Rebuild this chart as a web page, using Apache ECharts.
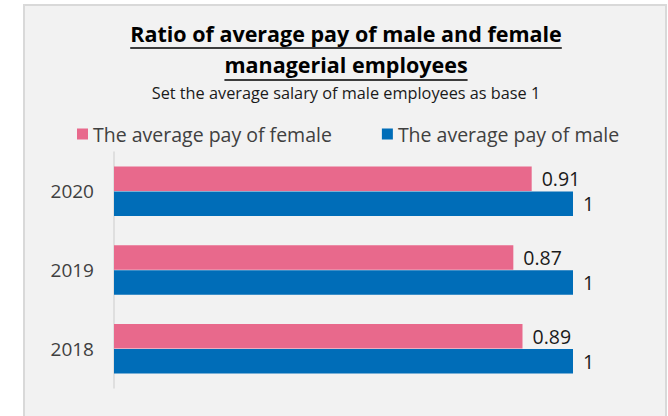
<!DOCTYPE html>
<html>
<head>
<meta charset="utf-8">
<script src="https://cdn.jsdelivr.net/npm/echarts@6/dist/echarts.min.js"></script>
<style>
  html, body { margin: 0; padding: 0; background: #ffffff; }
  #panel {
    position: absolute; left: 23px; top: 4px; width: 640px; height: 420px;
    background: #f2f2f2; border: 2px solid #d9d9d9; border-bottom: none;
  }
  #chart { position: absolute; left: 0; top: 0; width: 668px; height: 416px; }
</style>
</head>
<body>
<div id="panel"></div>
<div id="chart"></div>
<script>
const years = ["2020", "2019", "2018"];
const femalePay = [0.91, 0.87, 0.89];
const malePay = [1, 1, 1];
const seriesNames = ["The average pay of female", "The average pay of male"];
const titleLines = ["Ratio of average pay of male and female", "managerial employees"];
const subtitle = "Set the average salary of male employees as base 1";

const FONT = "Open Sans";
const CENTER_X = 341;

const chart = echarts.init(document.getElementById("chart"), null, { renderer: "svg" });

const titleStyle = { fontFamily: FONT, fontSize: 21.5, fontWeight: "bold", color: "#000000" };
const labelStyle = { show: true, position: "right", distance: 10, fontFamily: FONT, fontSize: 19.5, color: "#1a1a1a" };

const option = {
    backgroundColor: "transparent",
    textStyle: { fontFamily: FONT },
    title: [
        { text: titleLines[0], left: CENTER_X, top: 17, textAlign: "center", textStyle: titleStyle },
        { text: titleLines[1], left: CENTER_X, top: 48, textAlign: "center", textStyle: titleStyle },
        {
            text: subtitle,
            left: CENTER_X, top: 80, textAlign: "center",
            textStyle: { fontFamily: FONT, fontSize: 16.3, fontWeight: "normal", color: "#1a1a1a" },
        },
    ],
    legend: {
        data: seriesNames,
        top: 119,
        left: 72,
        itemWidth: 11,
        itemHeight: 11,
        itemGap: 50,
        icon: "rect",
        textStyle: { fontFamily: FONT, fontSize: 19.5, color: "#404040" },
    },
    grid: { left: 114, right: 95, top: 152, bottom: 28, containLabel: false },
    xAxis: {
        type: "value",
        min: 0,
        max: 1,
        show: false,
    },
    yAxis: {
        type: "category",
        data: years,
        inverse: true,
        axisLine: { show: true, lineStyle: { color: "#d9d9d9", width: 1.5 } },
        axisTick: { show: false },
        axisLabel: { fontFamily: FONT, fontSize: 19, color: "#404040", margin: 20 },
    },
    series: [
        {
            name: seriesNames[0],
            type: "bar",
            data: femalePay,
            barGap: "2%",
            barCategoryGap: "37%",
            itemStyle: { color: "#e8698c" },
            label: labelStyle,
        },
        {
            name: seriesNames[1],
            type: "bar",
            data: malePay,
            barGap: "2%",
            barCategoryGap: "37%",
            itemStyle: { color: "#006db8" },
            label: labelStyle,
        },
    ],
};

chart.setOption(option);

// underline the title lines, sized from the rendered text
const underlineY = [48, 80];
const chartBox = document.getElementById("chart").getBoundingClientRect();
const texts = Array.from(document.querySelectorAll("#chart svg text"));
const underlines = [];
titleLines.forEach((line, i) => {
    const el = texts.find(t => t.textContent === line);
    if (!el) return;
    const box = el.getBoundingClientRect();
    const x = box.left - chartBox.left;
    underlines.push({
        type: "line",
        shape: { x1: x, y1: underlineY[i], x2: x + box.width, y2: underlineY[i] },
        style: { stroke: "#000000", lineWidth: 1.6 },
        silent: true,
    });
});
chart.setOption({ graphic: underlines });
</script>
</body>
</html>
